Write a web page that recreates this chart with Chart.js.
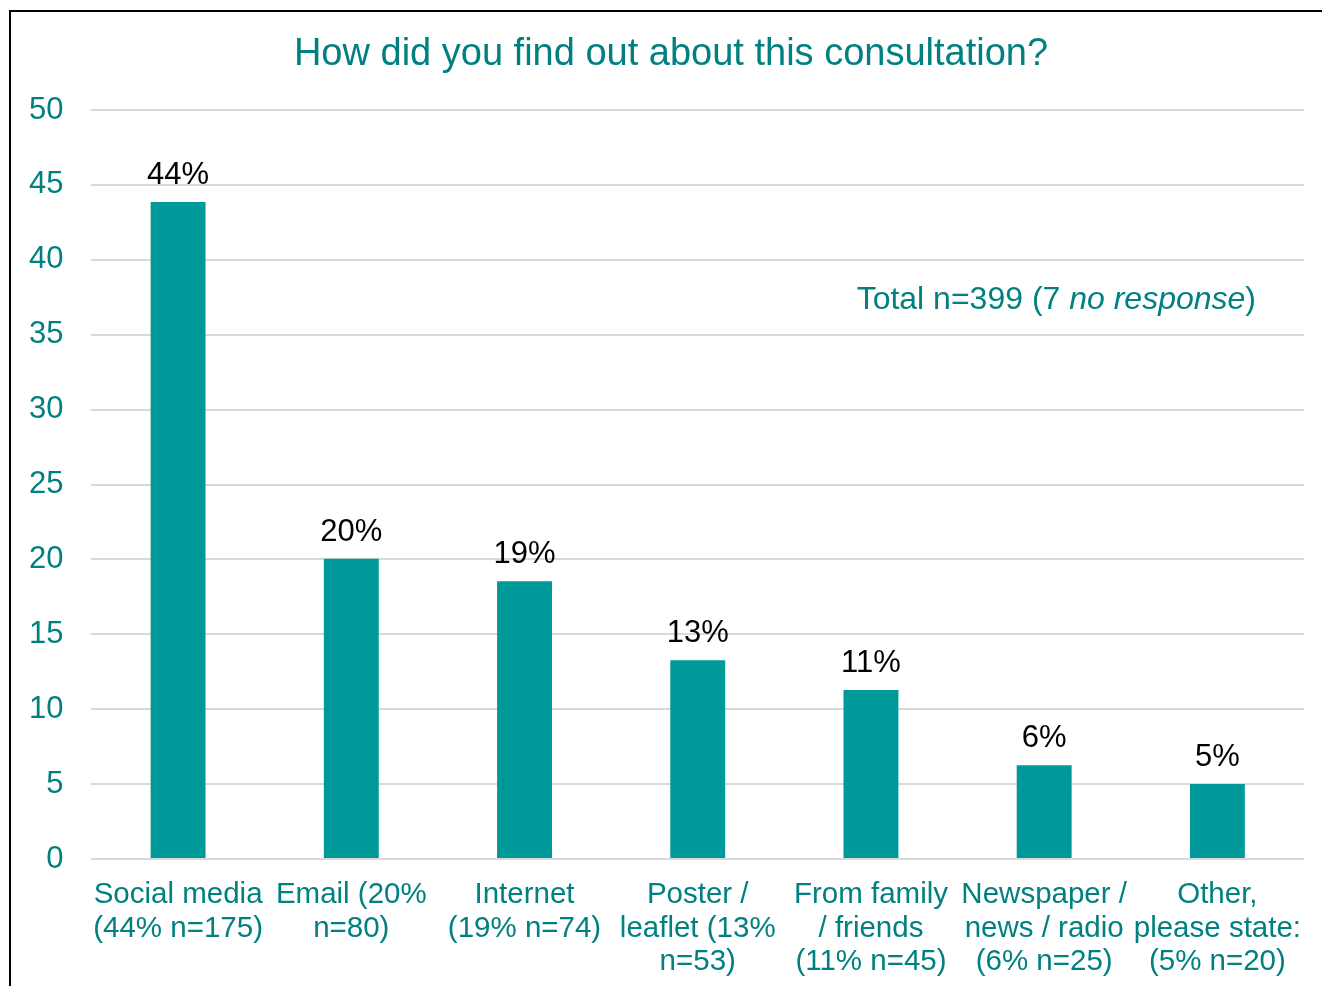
<!DOCTYPE html>
<html>
<head>
<meta charset="utf-8">
<script src="https://cdn.jsdelivr.net/npm/chart.js@4"></script>
<style>
  html, body { margin: 0; padding: 0; background: #fff; overflow: hidden; }
  #frame { position: absolute; left: 9px; top: 10px; width: 1400px; height: 1100px;
           border-left: 2px solid #000; border-top: 2px solid #000; }
  #wrap { position: absolute; left: 0; top: 0; width: 1322px; height: 1006px; }
</style>
</head>
<body>
<div id="frame"></div>
<div id="wrap"><canvas id="chart"></canvas></div>
<script>
'use strict';

// 카테고리, 값
const categories = [
    ['Social media', '(44% n=175)'],
    ['Email (20%', 'n=80)'],
    ['Internet', '(19% n=74)'],
    ['Poster /', 'leaflet (13%', 'n=53)'],
    ['From family', '/ friends', '(11% n=45)'],
    ['Newspaper /', 'news / radio', '(6% n=25)'],
    ['Other,', 'please state:', '(5% n=20)']
];
const percentValues = [43.86, 20.05, 18.55, 13.28, 11.28, 6.27, 5.01];
const percentLabels = ['44%', '20%', '19%', '13%', '11%', '6%', '5%'];
const yTicks = [0, 5, 10, 15, 20, 25, 30, 35, 40, 45, 50];
const titleText = 'How did you find out about this consultation?';

const teal = '#008080';
const barColor = '#009999';
const fontFamily = '"Liberation Sans", Arial, sans-serif';

// 제목, 막대 위 라벨, 총합 주석
const labelPlugin = {
    id: 'barLabels',
    afterDatasetsDraw(chart) {
        const ctx = chart.ctx;
        const meta = chart.getDatasetMeta(0);
        ctx.save();

        // 제목 (원본은 플롯 중심보다 약간 왼쪽)
        ctx.font = '38px ' + fontFamily;
        ctx.fillStyle = teal;
        ctx.textAlign = 'center';
        ctx.textBaseline = 'middle';
        ctx.fillText(titleText, 671, 55);

        ctx.font = '31px ' + fontFamily;
        ctx.fillStyle = '#000';
        ctx.textAlign = 'center';
        ctx.textBaseline = 'bottom';
        meta.data.forEach((bar, i) => {
            ctx.fillText(percentLabels[i], bar.x, bar.y - 11);
        });

        // Total n=399 (7 no response)
        const area = chart.chartArea;
        const y = chart.scales.y.getPixelForValue(37.3);
        const parts = [
            { t: 'Total n=399 (7 ', f: '32px ' + fontFamily },
            { t: 'no response', f: 'italic 32px ' + fontFamily },
            { t: ')', f: '32px ' + fontFamily }
        ];
        let total = 0;
        parts.forEach(p => { ctx.font = p.f; total += ctx.measureText(p.t).width; });
        let x = area.right - 48 - total;
        ctx.fillStyle = teal;
        ctx.textAlign = 'left';
        ctx.textBaseline = 'middle';
        parts.forEach(p => {
            ctx.font = p.f;
            ctx.fillText(p.t, x, y);
            x += ctx.measureText(p.t).width;
        });
        ctx.restore();
    }
};

new Chart(document.getElementById('chart').getContext('2d'), {
    type: 'bar',
    data: {
        labels: categories,
        datasets: [{
            data: percentValues,
            backgroundColor: barColor,
            borderWidth: 0,
            categoryPercentage: 1.0,
            barPercentage: 0.317
        }]
    },
    options: {
        responsive: true,
        maintainAspectRatio: false,
        animation: false,
        layout: { padding: { left: 1, right: 18, top: 110, bottom: 8 } },
        plugins: {
            legend: { display: false },
            tooltip: { enabled: false },
            title: { display: false }
        },
        scales: {
            x: {
                grid: { display: false, drawTicks: false },
                border: { display: false },
                ticks: {
                    color: teal,
                    font: { family: fontFamily, size: 29.5, lineHeight: 1.14 },
                    padding: 19,
                    maxRotation: 0,
                    autoSkip: false
                }
            },
            y: {
                min: 0,
                max: 50,
                afterBuildTicks: (axis) => { axis.ticks = yTicks.map(v => ({ value: v })); },
                grid: { color: '#d9d9d9', lineWidth: 2, drawTicks: false },
                border: { display: false },
                ticks: {
                    color: teal,
                    font: { family: fontFamily, size: 31 },
                    padding: 28
                }
            }
        }
    },
    plugins: [labelPlugin]
});
</script>
</body>
</html>
